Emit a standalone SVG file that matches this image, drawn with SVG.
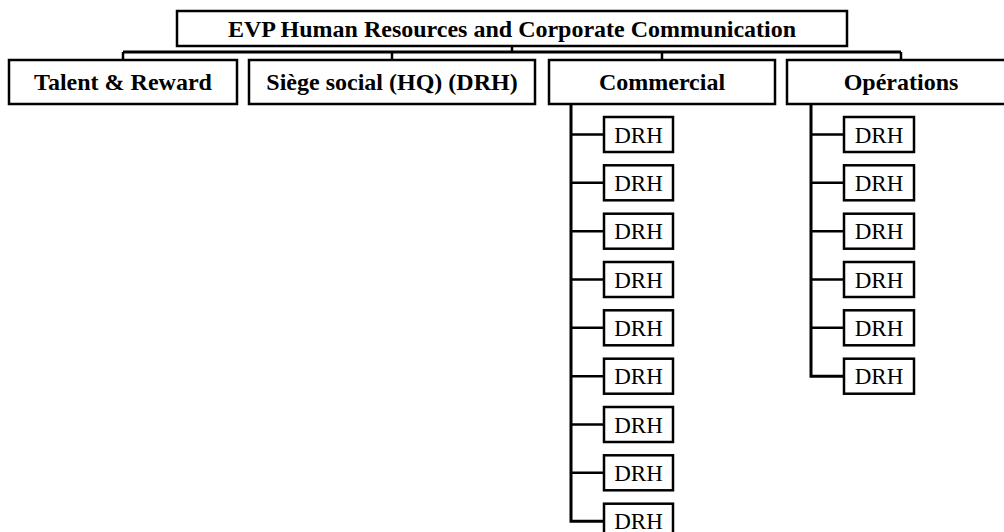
<svg xmlns="http://www.w3.org/2000/svg" width="1004" height="532" viewBox="0 0 1004 532">
  <style>
    .box { fill: #ffffff; stroke: #000000; stroke-width: 2.5; }
    .hd { font-family: "Liberation Serif", "Times New Roman", serif; font-weight: bold; font-size: 24px; text-anchor: middle; fill: #000000; }
    .sub { font-family: "Liberation Serif", "Times New Roman", serif; font-size: 23px; text-anchor: middle; fill: #000000; }
    .link { fill: none; stroke: #000000; stroke-width: 2.5; }
    .spine { fill: none; stroke: #000000; stroke-width: 3; }
  </style>
  <rect width="1004" height="532" fill="#ffffff"/>

  <!-- connectors -->
  <g id="connectors">
    <path class="link" d="M512 46 V52"/>
    <path class="spine" d="M123 52 H901"/>
    <path class="link" d="M123 52 V60 M392 52 V60 M662 52 V60 M901 52 V60"/>
    <!-- Commercial branch -->
    <path class="spine" d="M571 104 V521.3 H604"/>
    <path class="link" d="M571 134.5 H604 M571 182.8 H604 M571 231.2 H604 M571 279.5 H604 M571 327.8 H604 M571 376.2 H604 M571 424.5 H604 M571 472.8 H604"/>
    <!-- Opérations branch -->
    <path class="spine" d="M811 104 V376.2 H844"/>
    <path class="link" d="M811 134.5 H844 M811 182.8 H844 M811 231.2 H844 M811 279.5 H844 M811 327.8 H844"/>
  </g>

  <g id="evp">
    <rect class="box" x="177" y="11" width="670" height="35"/>
    <text class="hd" x="512" y="36.5">EVP Human Resources and Corporate Communication</text>
  </g>

  <g id="talent">
    <rect class="box" x="9" y="60" width="228" height="44"/>
    <text class="hd" x="123" y="90">Talent &amp; Reward</text>
  </g>
  <g id="siege">
    <rect class="box" x="249" y="60" width="286" height="44"/>
    <text class="hd" x="392" y="90">Siège social (HQ) (DRH)</text>
  </g>
  <g id="commercial">
    <rect class="box" x="549" y="60" width="226" height="44"/>
    <text class="hd" x="662" y="90">Commercial</text>
  </g>
  <g id="operations">
    <rect class="box" x="787" y="60" width="228" height="44"/>
    <text class="hd" x="901" y="90">Opérations</text>
  </g>

  <!-- Commercial DRH units -->
  <g id="com-drh-1"><rect class="box" x="604" y="117" width="69" height="35"/><text class="sub" x="638.5" y="142.5">DRH</text></g>
  <g id="com-drh-2"><rect class="box" x="604" y="165.3" width="69" height="35"/><text class="sub" x="638.5" y="190.8">DRH</text></g>
  <g id="com-drh-3"><rect class="box" x="604" y="213.7" width="69" height="35"/><text class="sub" x="638.5" y="239.2">DRH</text></g>
  <g id="com-drh-4"><rect class="box" x="604" y="262" width="69" height="35"/><text class="sub" x="638.5" y="287.5">DRH</text></g>
  <g id="com-drh-5"><rect class="box" x="604" y="310.3" width="69" height="35"/><text class="sub" x="638.5" y="335.8">DRH</text></g>
  <g id="com-drh-6"><rect class="box" x="604" y="358.7" width="69" height="35"/><text class="sub" x="638.5" y="384.2">DRH</text></g>
  <g id="com-drh-7"><rect class="box" x="604" y="407" width="69" height="35"/><text class="sub" x="638.5" y="432.5">DRH</text></g>
  <g id="com-drh-8"><rect class="box" x="604" y="455.3" width="69" height="35"/><text class="sub" x="638.5" y="480.8">DRH</text></g>
  <g id="com-drh-9"><rect class="box" x="604" y="503.7" width="69" height="35"/><text class="sub" x="638.5" y="529.2">DRH</text></g>

  <!-- Opérations DRH units -->
  <g id="ops-drh-1"><rect class="box" x="844" y="117" width="70" height="35"/><text class="sub" x="879" y="142.5">DRH</text></g>
  <g id="ops-drh-2"><rect class="box" x="844" y="165.3" width="70" height="35"/><text class="sub" x="879" y="190.8">DRH</text></g>
  <g id="ops-drh-3"><rect class="box" x="844" y="213.7" width="70" height="35"/><text class="sub" x="879" y="239.2">DRH</text></g>
  <g id="ops-drh-4"><rect class="box" x="844" y="262" width="70" height="35"/><text class="sub" x="879" y="287.5">DRH</text></g>
  <g id="ops-drh-5"><rect class="box" x="844" y="310.3" width="70" height="35"/><text class="sub" x="879" y="335.8">DRH</text></g>
  <g id="ops-drh-6"><rect class="box" x="844" y="358.7" width="70" height="35"/><text class="sub" x="879" y="384.2">DRH</text></g>
</svg>
